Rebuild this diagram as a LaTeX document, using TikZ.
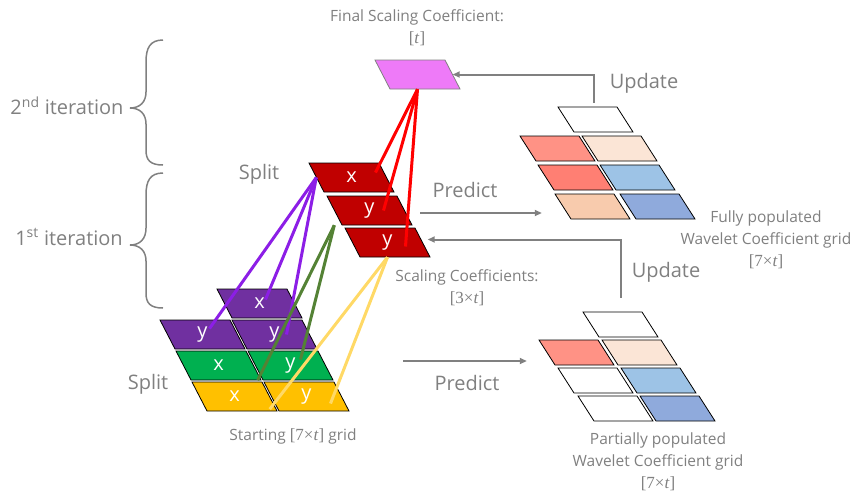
\documentclass[tikz,border=0pt]{standalone}
\usepackage{fontspec}
\setmainfont{Open Sans}
\newfontfamily\mathlike{Liberation Serif}
\usetikzlibrary{arrows.meta}
\usetikzlibrary{calc}

\definecolor{txtgray}{RGB}{128,128,128}
\definecolor{purpcell}{RGB}{112,48,160}
\definecolor{greencell}{RGB}{0,176,80}
\definecolor{yellcell}{RGB}{255,192,0}
\definecolor{redcell}{RGB}{192,0,0}
\definecolor{magcell}{RGB}{238,122,248}
\definecolor{purpline}{RGB}{140,30,230}
\definecolor{greenline}{RGB}{84,130,53}
\definecolor{yellline}{RGB}{255,217,102}
\definecolor{redline}{RGB}{255,0,0}
\definecolor{salmon}{RGB}{255,146,133}
\definecolor{coral}{RGB}{255,127,115}
\definecolor{peach}{RGB}{251,229,214}
\definecolor{apricot}{RGB}{248,203,173}
\definecolor{skyblue}{RGB}{157,195,230}
\definecolor{steelblue}{RGB}{143,170,220}

\tikzset{
  gridcell/.style={draw=black, line width=0.8pt},
  cellmark/.style={inner sep=0pt, text=white, font=\fontsize{20}{24}\selectfont},
  lbl/.style={text=txtgray, font=\fontsize{20}{24}\selectfont},
  note/.style={text=txtgray, align=center, font=\fontsize{15.5}{22}\selectfont},
  flow/.style={draw=txtgray, line width=2pt, -{Triangle[length=7pt,width=6pt]}},
  link/.style={line width=3pt},
  bracket/.style={draw=txtgray, line width=1.5pt},
}

% size in brackets, set like the formula font
\newcommand{\dims}[1]{{\mathlike\fontsize{17}{22}\selectfont[#1\textit{t}]}}

% cell of the 7 x t grid: name, top left corner, fill, letter
\newcommand{\bigcell}[4]{%
  \filldraw[gridcell, fill=#3] (#2) -- ++(70,0) -- ++(15,29) -- ++(-70,0) -- cycle;
  \node[cellmark, minimum width=70pt, minimum height=29pt] (#1) at ($(#2)+(42.5,14.5)$) {#4};
}
% cell of a wavelet grid: name, top left corner, fill
\newcommand{\smallcell}[3]{%
  \filldraw[gridcell, fill=#3] (#2) -- ++(59,0) -- ++(16,25) -- ++(-59,0) -- cycle;
  \node[cellmark, minimum width=59pt, minimum height=25pt] (#1) at ($(#2)+(37.5,12.5)$) {};
}

\begin{document}
\begin{tikzpicture}[x=1pt, y=-1pt]
	\useasboundingbox (0,0) rectangle (862,496);

	% starting grid
	\bigcell{px}{217,289}{purpcell}{x}
	\bigcell{py1}{160,320}{purpcell}{y}
	\bigcell{py2}{232,320}{purpcell}{y}
	\bigcell{gx}{176,351}{greencell}{x}
	\bigcell{gy}{248,351}{greencell}{y}
	\bigcell{yx}{192,382}{yellcell}{x}
	\bigcell{yy}{264,382}{yellcell}{y}

	% scaling coefficients
	\bigcell{rx}{309,163}{redcell}{x}
	\bigcell{ry}{327,196}{redcell}{y}
	\bigcell{ry2}{345,228}{redcell}{y}
	\bigcell{mg}{375,60}{magcell, draw=txtgray}{}

	% fully populated grid
	\smallcell{t01}{558,107}{white}
	\smallcell{t10}{520,136}{salmon}
	\smallcell{t11}{582,136}{peach}
	\smallcell{t20}{538,165}{coral}
	\smallcell{t21}{600,165}{skyblue}
	\smallcell{t30}{555,194}{apricot}
	\smallcell{t31}{620,194}{steelblue}

	% partially populated grid
	\smallcell{b01}{583,312}{white}
	\smallcell{b10}{539,340}{salmon}
	\smallcell{b11}{602,340}{peach}
	\smallcell{b20}{558,368}{white}
	\smallcell{b21}{621,368}{skyblue}
	\smallcell{b30}{578,396}{white}
	\smallcell{b31}{640,396}{steelblue}

	% splits
	\draw[link, draw=purpline] (rx.west) -- ([xshift=7pt,yshift=6pt]py1.center);
	\draw[link, draw=purpline] (rx.west) -- ([xshift=6pt,yshift=4pt]px.center);
	\draw[link, draw=purpline] (rx.west) -- ([xshift=12pt]py2.center);
	\draw[link, draw=greenline] (ry.south west) -- ([xshift=4pt]gx.south east);
	\draw[link, draw=greenline] (ry.south west) -- ([xshift=10pt,yshift=6pt]gy.center);
	\draw[link, draw=yellline] (ry2.south) -- ([yshift=2pt]yx.south east);
	\draw[link, draw=yellline] (ry2.south) -- ([xshift=24pt,yshift=-7pt]yy.center);
	\draw[link, draw=redline] (mg.south) -- ([xshift=24pt,yshift=5pt]rx.center);
	\draw[link, draw=redline] (mg.south) -- ([xshift=14pt]ry.center);
	\draw[link, draw=redline] (mg.south) -- ([xshift=18pt,yshift=-4pt]ry2.center);

	% predict and update
	\coordinate (predA) at (420,213);
	\coordinate (predB) at (403,361);
	\draw[flow, shorten >=21pt] (predA) -- (predA -| t30.west);
	\draw[flow, shorten >=20pt] (predB) -- (predB -| b10.west);
	\draw[flow] ([xshift=-2pt,yshift=4pt]t01.north) |- (mg.east);
	\draw[flow] ([yshift=14pt]b01.north) |- ([xshift=5pt,yshift=3pt]ry2.east);

	% iterations
	\draw[bracket] (163,40) .. controls (150,40) and (146,48) .. (146,62) -- (146,92)
		.. controls (146,102) and (140,108) .. (130,108) .. controls (140,108) and (146,114) .. (146,124)
		-- (146,150) .. controls (146,160) and (150,165) .. (163,165);
	\draw[bracket] (163,173) .. controls (150,173) and (146,181) .. (146,195) -- (146,228)
		.. controls (146,239) and (140,245) .. (130,245) .. controls (140,245) and (146,251) .. (146,261)
		-- (146,293) .. controls (146,303) and (150,308) .. (163,308);

	% labels
	\node[note] (finaltxt) at (417,28) {Final Scaling Coefficient:\\\dims{}};
	\node[note] (scaletxt) at (467,288) {Scaling Coefficients:\\\dims{3×}};
	\node[note] (starttxt) at (293,436) {Starting \dims{7×} grid};
	\node[note] (fulltxt) at (766,240) {Fully populated\\Wavelet Coefficient grid\\\dims{7×}};
	\node[note] (parttxt) at (658,462) {Partially populated\\Wavelet Coefficient grid\\\dims{7×}};
	\node[lbl] (splitA) at (259,174) {Split};
	\node[lbl] (splitB) at (148,384) {Split};
	\node[lbl] (predtxtA) at (465,190) {Predict};
	\node[lbl] (predtxtB) at (467,383) {Predict};
	\node[lbl] (updtxtA) at (644,83) {Update};
	\node[lbl] (updtxtB) at (666,272) {Update};
	\node[lbl] (iterB) at (67,106) {2\textsuperscript{nd}~iteration};
	\node[lbl] (iterA) at (69,237) {1\textsuperscript{st}~iteration};
\end{tikzpicture}
\end{document}
